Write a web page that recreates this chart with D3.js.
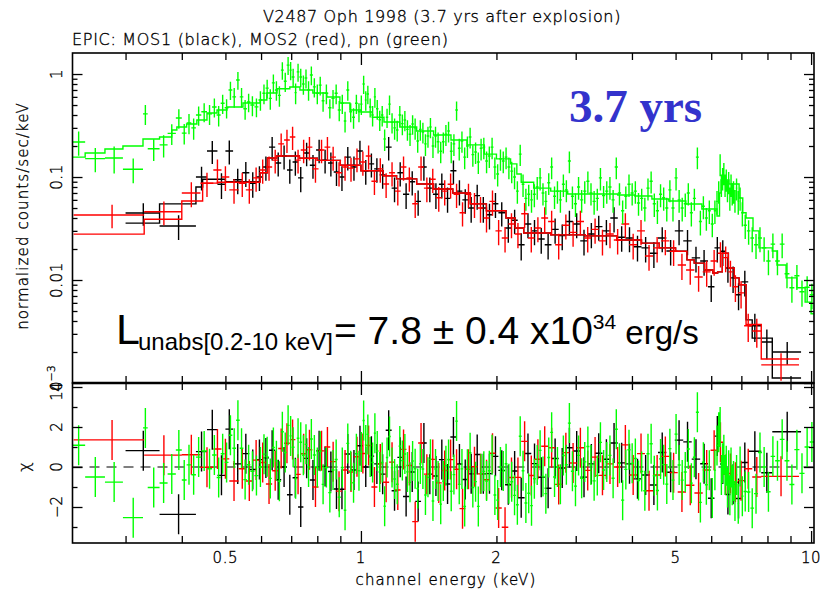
<!DOCTYPE html>
<html>
<head>
<meta charset="utf-8">
<script src="https://cdn.jsdelivr.net/npm/d3@7"></script>
<style>
  body { margin: 0; background: #fff; }
  .ax { font-family: "DejaVu Sans", sans-serif; font-weight: 200; fill: #000; stroke: #000; stroke-width: 0.35; }
</style>
</head>
<body>
<svg id="chart" width="820" height="593"></svg>
<script>
// ---------- tick values ----------
var xMajor = [1, 10]
var xMinor = [0.3, 0.4, 0.5, 0.6, 0.7, 0.8, 0.9, 2, 3, 4, 5, 6, 7, 8, 9]
var xLabels = [0.5, 1, 2, 5, 10]
var yMajor = [0.001, 0.01, 0.1, 1]
var yMinor = [0.002,0.003,0.004,0.005,0.006,0.007,0.008,0.009,
              0.02,0.03,0.04,0.05,0.06,0.07,0.08,0.09,
              0.2,0.3,0.4,0.5,0.6,0.7,0.8,0.9]
var yLabels = [1, 0.1, 0.01]
var chiMajor = [-2, 0, 2, 4]
var chiMinor = [-3, -1, 1, 3]

// ---------- MOS1 (black) ----------
var mos1Edges = [0.300,0.357,0.430,0.455,0.480,0.500,0.520,0.545,0.565,0.585,0.605,0.625,0.645,0.665,0.685,0.705,0.725,0.745,0.770,0.795,
  0.820,0.845,0.870,0.895,0.920,0.950,0.980,1.010,1.040,1.070,1.100,1.135,1.170,1.205,1.240,1.280,1.320,1.360,1.400,1.445,
  1.490,1.535,1.580,1.630,1.680,1.730,1.785,1.840,1.900,1.960,2.020,2.090,2.160,2.230,2.310,2.390,2.470,2.560,2.650,2.750,
  2.850,2.960,3.070,3.190,3.310,3.440,3.580,3.720,3.870,4.030,4.200,4.380,4.570,4.770,4.980,5.200,5.430,5.670,5.900,6.100,
  6.280,6.450,6.620,6.800,7.000,7.250,7.750,8.200,9.500]
var mos1Rate = [0.0447,0.0335,0.10,0.179,0.085,0.179,0.094,0.11,0.087,0.10,
  0.125,0.195,0.137,0.16,0.117,0.14,0.098,0.171,0.13,0.183,
  0.146,0.137,0.112,0.10,0.156,0.125,0.179,0.115,0.134,0.12,
  0.105,0.195,0.078,0.11,0.068,0.09,0.058,0.125,0.078,0.068,
  0.085,0.062,0.115,0.073,0.06,0.05,0.066,0.05,0.043,0.055,
  0.045,0.032,0.038,0.022,0.035,0.03,0.025,0.022,0.031,0.027,
  0.037,0.035,0.024,0.028,0.033,0.03,0.04,0.026,0.0256,0.021,
  0.0205,0.0182,0.0256,0.0191,0.03,0.024,0.0164,0.0153,0.0086,0.0205,
  0.019,0.0131,0.0105,0.0072,0.0096,0.0036,0.0025,0.002]
var mos1Err = [0.011,0.009,0.026,0.045,0.024,0.047,0.026,0.03,0.024,0.027,
  0.033,0.05,0.036,0.042,0.031,0.037,0.027,0.044,0.034,0.047,
  0.038,0.036,0.03,0.027,0.04,0.033,0.046,0.031,0.035,0.032,
  0.028,0.05,0.021,0.029,0.019,0.024,0.016,0.033,0.021,0.019,
  0.023,0.017,0.03,0.02,0.016,0.014,0.018,0.014,0.012,0.015,
  0.012,0.009,0.01,0.0065,0.0095,0.0082,0.007,0.0062,0.0085,0.0075,
  0.01,0.0095,0.0067,0.0077,0.009,0.0082,0.011,0.0072,0.007,0.0059,
  0.0057,0.0051,0.007,0.0053,0.0082,0.0066,0.0046,0.0043,0.0025,0.0057,
  0.0053,0.0037,0.003,0.0021,0.0027,0.0011,0.0008,0.0005]
var mos1ModelEdges = [0.300,0.357,0.430,0.445,0.500,0.597,0.62,0.65,0.73,0.80,0.90,1.0,1.12,1.2,1.33,1.45,1.6,1.75,1.9,2.1,
  2.2,2.3,2.64,3.15,3.7,4.2,4.6,5.0,5.3,5.5,5.8,6.05,6.2,6.35,6.55,6.75,6.92,7.17,7.4,8.2,9.5]
var mos1Model = [0.0357,0.0548,0.080,0.095,0.090,0.11,0.153,0.16,0.152,0.145,0.13,0.115,0.103,0.096,0.0855,0.0765,0.070,0.0548,0.047,0.040,
  0.032,0.0286,0.0274,0.0268,0.0245,0.0228,0.0205,0.019,0.0157,0.0146,0.0125,0.0117,0.0120,0.0182,0.0131,0.0105,0.0090,0.0041,0.00273,0.00112]

// ---------- MOS2 (red) ----------
var mos2Edges = [0.230,0.330,0.400,0.440,0.470,0.490,0.510,0.535,0.555,0.575,0.595,0.615,0.635,0.655,0.675,0.695,0.715,0.735,0.757,0.780,
  0.805,0.830,0.855,0.880,0.908,0.936,0.965,0.995,1.025,1.055,1.088,1.120,1.155,1.190,1.225,1.262,1.300,1.340,1.380,1.422,
  1.466,1.512,1.558,1.606,1.656,1.707,1.760,1.815,1.872,1.930,1.990,2.055,2.125,2.195,2.270,2.350,2.430,2.515,2.605,2.700,
  2.800,2.905,3.015,3.130,3.250,3.375,3.505,3.645,3.790,3.945,4.105,4.275,4.455,4.645,4.845,5.055,5.275,5.505,5.745,5.980,
  6.200,6.380,6.540,6.700,6.880,7.100,7.400,7.750,9.400]
var mos2Rate = [0.0428,0.046,0.07,0.087,0.117,0.10,0.075,0.087,0.075,0.098,
  0.117,0.125,0.146,0.21,0.229,0.245,0.146,0.183,0.195,0.12,
  0.183,0.195,0.156,0.11,0.125,0.122,0.15,0.14,0.16,0.091,
  0.12,0.0855,0.11,0.073,0.125,0.098,0.055,0.125,0.078,0.095,
  0.063,0.073,0.085,0.068,0.045,0.068,0.055,0.05,0.04,0.058,
  0.03,0.0256,0.035,0.028,0.044,0.0256,0.032,0.04,0.037,0.022,
  0.034,0.029,0.037,0.0256,0.031,0.024,0.028,0.0245,0.035,0.022,
  0.03,0.0171,0.0205,0.024,0.019,0.014,0.0125,0.0107,0.012,0.0153,
  0.0182,0.0165,0.012,0.0086,0.0075,0.0036,0.0032,0.0015]
var mos2Err = [0.011,0.012,0.019,0.023,0.031,0.027,0.02,0.023,0.02,0.026,
  0.031,0.033,0.038,0.054,0.058,0.062,0.038,0.047,0.05,0.032,
  0.047,0.05,0.041,0.029,0.033,0.032,0.039,0.037,0.042,0.024,
  0.032,0.023,0.029,0.02,0.033,0.026,0.015,0.033,0.021,0.025,
  0.017,0.02,0.023,0.018,0.012,0.018,0.015,0.014,0.011,0.016,
  0.0083,0.0071,0.0095,0.0077,0.012,0.0071,0.0087,0.011,0.01,0.0062,
  0.0092,0.008,0.01,0.0071,0.0085,0.0067,0.0077,0.0068,0.0095,0.0062,
  0.0082,0.0048,0.0057,0.0066,0.0053,0.004,0.0035,0.003,0.0034,0.0043,
  0.005,0.0046,0.0034,0.0025,0.0022,0.0011,0.001,0.00045]
var mos2ModelEdges = [0.23,0.33,0.40,0.445,0.48,0.597,0.62,0.65,0.73,0.80,0.90,1.0,1.12,1.2,1.33,1.45,1.6,1.75,1.9,2.1,
  2.2,2.3,2.64,3.15,3.7,4.2,4.6,5.0,5.3,5.5,5.8,6.05,6.2,6.35,6.55,6.75,6.92,7.17,7.75,9.4]
var mos2Model = [0.0279,0.0389,0.0584,0.0873,0.089,0.11,0.153,0.16,0.152,0.145,0.13,0.115,0.103,0.096,0.0855,0.0765,0.070,0.0548,0.047,0.040,
  0.032,0.0286,0.0274,0.0268,0.0245,0.0228,0.0205,0.019,0.0157,0.0146,0.0125,0.0117,0.0120,0.0182,0.0131,0.0105,0.0090,0.0037,0.00171]

// ---------- pn (green) ----------
var pnEdges = [0.228,0.244,0.270,0.296,0.328,0.336,0.357,0.372,0.388,0.400,
  0.410,0.420,0.430,0.442,0.455,0.467,0.478,0.488,0.498,0.508,
  0.518,0.528,0.538,0.548,0.558,0.568,0.580,0.592,0.604,0.614,
  0.624,0.634,0.644,0.654,0.664,0.674,0.684,0.694,0.702,0.712,
  0.720,0.730,0.740,0.750,0.760,0.770,0.782,0.794,0.806,0.818,
  0.830,0.846,0.860,0.874,0.888,0.902,0.916,0.928,0.942,0.956,
  0.970,0.984,0.996,1.008,1.020,1.030,1.042,1.055,1.068,1.080,
  1.094,1.108,1.122,1.136,1.150,1.165,1.180,1.196,1.212,1.228,
  1.244,1.260,1.277,1.294,1.311,1.328,1.346,1.364,1.382,1.400,
  1.418,1.436,1.455,1.474,1.494,1.514,1.534,1.555,1.576,1.598,
  1.620,1.642,1.665,1.688,1.712,1.736,1.760,1.785,1.810,1.836,
  1.862,1.888,1.915,1.942,1.970,1.998,2.027,2.056,2.086,2.116,
  2.147,2.178,2.210,2.242,2.275,2.308,2.342,2.376,2.410,2.446,
  2.482,2.519,2.556,2.594,2.633,2.672,2.712,2.753,2.795,2.838,
  2.882,2.927,2.973,3.020,3.068,3.117,3.167,3.218,3.270,3.323,
  3.377,3.432,3.488,3.545,3.603,3.662,3.722,3.783,3.845,3.908,
  3.972,4.037,4.103,4.170,4.238,4.307,4.377,4.448,4.520,4.593,
  4.667,4.742,4.818,4.895,4.973,5.052,5.132,5.213,5.295,5.378,
  5.462,5.547,5.633,5.720,5.808,5.897,5.987,6.078,6.150,6.210,
  6.260,6.300,6.340,6.380,6.420,6.460,6.500,6.540,6.580,6.620,
  6.660,6.700,6.750,6.800,6.860,6.920,6.990,7.080,7.200,7.330,
  7.470,7.620,7.780,7.950,8.130,8.320,8.520,8.730,8.950,9.180,
  9.420,9.670,9.930,10.15]
var pnRate = [0.219,0.151,0.153,0.119,0.41,0.188,0.205,0.265,0.374,0.267,
  0.335,0.30,0.40,0.43,0.41,0.478,0.40,0.52,0.47,0.70,
  0.60,0.875,0.60,0.46,0.535,0.50,0.48,0.56,0.65,0.73,
  0.58,0.82,0.70,0.62,1.09,0.85,1.22,1.09,0.935,0.66,
  1.05,0.935,0.80,0.915,0.70,0.98,0.75,0.65,0.78,0.55,
  0.65,0.47,0.58,0.65,0.447,0.52,0.35,0.70,0.43,0.38,
  0.52,0.43,0.51,0.80,0.56,0.64,0.478,0.40,0.60,0.46,
  0.36,0.40,0.234,0.38,0.51,0.34,0.30,0.286,0.40,0.33,
  0.358,0.29,0.26,0.327,0.30,0.224,0.29,0.274,0.21,0.25,
  0.306,0.20,0.25,0.22,0.178,0.22,0.26,0.28,0.178,0.21,
  0.447,0.19,0.224,0.156,0.20,0.245,0.165,0.175,0.14,0.19,
  0.195,0.143,0.16,0.195,0.125,0.107,0.15,0.143,0.156,0.125,
  0.114,0.10,0.073,0.167,0.085,0.062,0.068,0.06,0.068,0.08,
  0.098,0.07,0.058,0.088,0.125,0.065,0.073,0.06,0.085,0.075,
  0.143,0.065,0.055,0.08,0.06,0.073,0.091,0.07,0.058,0.062,
  0.098,0.066,0.073,0.08,0.06,0.125,0.07,0.047,0.065,0.085,
  0.07,0.073,0.056,0.062,0.05,0.078,0.091,0.055,0.047,0.068,
  0.063,0.05,0.075,0.05,0.098,0.06,0.05,0.055,0.07,0.045,
  0.062,0.156,0.037,0.052,0.04,0.047,0.035,0.047,0.058,0.073,
  0.134,0.085,0.098,0.11,0.085,0.095,0.075,0.09,0.063,0.085,
  0.07,0.073,0.06,0.078,0.058,0.063,0.045,0.034,0.03,0.0256,
  0.022,0.0256,0.0205,0.0153,0.0223,0.0153,0.0223,0.0115,0.0084,0.011,
  0.0077,0.0085,0.0072]
var pnErr = [0.058,0.040,0.045,0.032,0.09,0.045,0.05,0.06,0.08,0.06,
  0.075,0.07,0.085,0.09,0.09,0.10,0.09,0.11,0.10,0.14,
  0.13,0.17,0.13,0.10,0.11,0.11,0.10,0.12,0.14,0.15,
  0.13,0.17,0.15,0.14,0.21,0.18,0.24,0.22,0.19,0.15,
  0.21,0.19,0.17,0.19,0.15,0.20,0.16,0.14,0.16,0.12,
  0.14,0.10,0.12,0.14,0.10,0.11,0.08,0.15,0.09,0.085,
  0.11,0.09,0.11,0.16,0.12,0.13,0.10,0.09,0.13,0.10,
  0.08,0.09,0.055,0.08,0.11,0.075,0.07,0.065,0.09,0.075,
  0.08,0.065,0.06,0.07,0.07,0.052,0.065,0.062,0.05,0.058,
  0.068,0.047,0.058,0.051,0.042,0.051,0.06,0.064,0.042,0.05,
  0.095,0.045,0.052,0.037,0.047,0.056,0.039,0.041,0.033,0.045,
  0.046,0.034,0.038,0.046,0.03,0.026,0.035,0.034,0.037,0.03,
  0.027,0.024,0.018,0.039,0.021,0.015,0.016,0.015,0.017,0.02,
  0.024,0.017,0.015,0.021,0.03,0.016,0.018,0.015,0.021,0.018,
  0.034,0.016,0.014,0.02,0.015,0.018,0.022,0.017,0.015,0.015,
  0.024,0.016,0.018,0.02,0.015,0.03,0.017,0.012,0.016,0.021,
  0.017,0.018,0.014,0.015,0.013,0.019,0.022,0.014,0.012,0.017,
  0.016,0.013,0.018,0.013,0.024,0.015,0.013,0.014,0.017,0.012,
  0.015,0.037,0.01,0.013,0.01,0.012,0.009,0.012,0.015,0.018,
  0.032,0.021,0.024,0.027,0.021,0.023,0.018,0.022,0.016,0.021,
  0.017,0.018,0.015,0.019,0.015,0.016,0.012,0.009,0.008,0.007,
  0.006,0.007,0.0055,0.0042,0.006,0.0042,0.006,0.0032,0.0024,0.003,
  0.0022,0.0024,0.002]
var pnModelEdges = [0.228,0.244,0.270,0.296,0.328,0.357,0.380,0.390,0.410,0.432,0.455,0.479,0.504,0.547,0.597,0.618,0.651,0.695,0.732,0.782,
  0.840,0.898,0.945,1.0,1.06,1.125,1.22,1.33,1.45,1.585,1.72,1.88,2.0,2.15,2.22,2.27,2.42,2.64,2.88,3.15,
  3.72,4.06,4.43,4.83,5.27,5.72,6.18,6.26,6.31,6.57,6.92,7.05,7.17,7.43,7.66,8.2,8.4,8.8,9.3,9.7,10.0,10.15]
var pnModel = [0.156,0.171,0.187,0.200,0.234,0.245,0.286,0.306,0.327,0.358,0.418,0.447,0.478,0.523,0.560,0.654,0.720,0.748,0.700,0.654,
  0.598,0.523,0.447,0.428,0.380,0.342,0.306,0.280,0.256,0.229,0.205,0.167,0.150,0.134,0.107,0.089,0.078,0.073,0.0684,0.0684,
  0.0669,0.0654,0.0611,0.0585,0.0547,0.0489,0.0418,0.070,0.0935,0.0855,0.0625,0.045,0.040,0.030,0.0205,0.0191,0.014,0.0105,0.0084,0.0061,0.0047]

// ---------- layout ----------
var left = 72.5, right = 814, top1 = 53, bot1 = 383, bot2 = 543
var svg = d3.select('#chart')

var x = d3.scaleLog().domain([0.2287, 10.15]).range([left, right])
var y = d3.scaleLog().domain([0.001, 1.6]).range([bot1, top1])
var yc = d3.scaleLinear().domain([-3.8, 4.2]).range([bot2, bot1])

var defs = svg.append('defs')
defs.append('clipPath').attr('id', 'clipTop').append('rect')
  .attr('x', left).attr('y', top1).attr('width', right - left).attr('height', bot1 - top1)
defs.append('clipPath').attr('id', 'clipBot').append('rect')
  .attr('x', left).attr('y', bot1).attr('width', right - left).attr('height', bot2 - bot1)

function makeBins(edges, rate, err, name){
  if (edges.length !== rate.length + 1 || rate.length !== err.length)
    throw new Error(name + ' length mismatch ' + edges.length + ' ' + rate.length + ' ' + err.length)
  return rate.map(function(r, i){
    return {e0: edges[i], e1: edges[i+1], ec: (edges[i] + edges[i+1]) / 2, r: r, err: err[i]}
  })
}
function modelAt(edges, vals, e){
  for (var i = 0; i < vals.length; i++) if (e >= edges[i] && e < edges[i+1]) return vals[i]
  return vals[vals.length - 1]
}

var series = [
  {color: '#000000', bins: makeBins(mos1Edges, mos1Rate, mos1Err, 'mos1'), me: mos1ModelEdges, mv: mos1Model},
  {color: '#ff0000', bins: makeBins(mos2Edges, mos2Rate, mos2Err, 'mos2'), me: mos2ModelEdges, mv: mos2Model},
  {color: '#00ff00', bins: makeBins(pnEdges, pnRate, pnErr, 'pn'), me: pnModelEdges, mv: pnModel}
]
series.forEach(function(s){
  if (s.me.length !== s.mv.length + 1) throw new Error('model length mismatch')
  s.bins.forEach(function(b){ b.chi = (b.r - modelAt(s.me, s.mv, b.ec)) / b.err })
})

var gTop = svg.append('g').attr('clip-path', 'url(#clipTop)')
var gBot = svg.append('g').attr('clip-path', 'url(#clipBot)')

// dashed zero line
gBot.append('line')
  .attr('x1', left).attr('x2', right).attr('y1', yc(0)).attr('y2', yc(0))
  .attr('stroke', '#555').attr('stroke-width', 1.6).attr('stroke-dasharray', '10,7')

var step = d3.line().x(function(d){ return x(d[0]) }).y(function(d){ return y(d[1]) }).curve(d3.curveStepAfter)

series.forEach(function(s){
  // data crosses
  gTop.append('path')
    .attr('fill', 'none').attr('stroke', s.color).attr('stroke-width', 1.4)
    .attr('d', s.bins.map(function(b){
      var lo = Math.max(b.r - b.err, 1e-5)
      return 'M' + x(b.e0) + ',' + y(b.r) + 'H' + x(b.e1) +
             'M' + x(b.ec) + ',' + y(lo) + 'V' + y(b.r + b.err)
    }).join(''))
  // folded model
  var pts = s.me.map(function(e, i){ return [e, s.mv[Math.min(i, s.mv.length - 1)]] })
  gTop.append('path')
    .attr('fill', 'none').attr('stroke', s.color).attr('stroke-width', 1.4)
    .attr('d', step(pts))
  // residuals
  gBot.append('path')
    .attr('fill', 'none').attr('stroke', s.color).attr('stroke-width', 1.4)
    .attr('d', s.bins.map(function(b){
      return 'M' + x(b.e0) + ',' + yc(b.chi) + 'H' + x(b.e1) +
             'M' + x(b.ec) + ',' + yc(b.chi - 1) + 'V' + yc(b.chi + 1)
    }).join(''))
})

// ---------- ticks ----------
function tickAxis(axis, tx, ty){
  var g = svg.append('g').attr('transform', 'translate(' + tx + ',' + ty + ')').call(axis)
  g.select('.domain').remove()
  g.selectAll('line').attr('stroke', '#000').attr('stroke-width', 1.3)
  g.selectAll('text').remove()
}
// x ticks on both panels, top and bottom edges
;[[top1, bot1], [bot1, bot2]].forEach(function(p){
  tickAxis(d3.axisBottom(x).tickValues(xMinor).tickSize(7), 0, p[0])
  tickAxis(d3.axisBottom(x).tickValues(xMajor).tickSize(12), 0, p[0])
  tickAxis(d3.axisTop(x).tickValues(xMinor).tickSize(7), 0, p[1])
  tickAxis(d3.axisTop(x).tickValues(xMajor).tickSize(12), 0, p[1])
})
tickAxis(d3.axisRight(y).tickValues(yMinor).tickSize(5), left, 0)
tickAxis(d3.axisRight(y).tickValues(yMajor).tickSize(10), left, 0)
tickAxis(d3.axisLeft(y).tickValues(yMinor).tickSize(5), right, 0)
tickAxis(d3.axisLeft(y).tickValues(yMajor).tickSize(10), right, 0)
tickAxis(d3.axisRight(yc).tickValues(chiMinor).tickSize(5), left, 0)
tickAxis(d3.axisRight(yc).tickValues(chiMajor).tickSize(10), left, 0)
tickAxis(d3.axisLeft(yc).tickValues(chiMinor).tickSize(5), right, 0)
tickAxis(d3.axisLeft(yc).tickValues(chiMajor).tickSize(10), right, 0)

// frames
svg.append('rect').attr('x', left).attr('y', top1).attr('width', right - left).attr('height', bot1 - top1)
  .attr('fill', 'none').attr('stroke', '#000').attr('stroke-width', 1.6)
svg.append('rect').attr('x', left).attr('y', bot1).attr('width', right - left).attr('height', bot2 - bot1)
  .attr('fill', 'none').attr('stroke', '#000').attr('stroke-width', 1.6)
svg.append('line').attr('x1', left).attr('x2', right).attr('y1', bot1).attr('y2', bot1)
  .attr('stroke', '#000').attr('stroke-width', 2.6)

// ---------- labels ----------
svg.selectAll('.xl').data(xLabels).enter().append('text')
  .attr('class', 'ax').attr('x', function(d){ return x(d) }).attr('y', 563)
  .attr('text-anchor', 'middle').attr('font-size', 15).attr('letter-spacing', 0.6)
  .text(function(d){ return d })

svg.selectAll('.yl').data(yLabels).enter().append('text')
  .attr('class', 'ax').attr('font-size', 15).attr('text-anchor', 'middle').attr('letter-spacing', 0.6)
  .attr('transform', function(d){ return 'translate(62,' + y(d) + ') rotate(-90)' })
  .text(function(d){ return d })
var t3 = svg.append('text').attr('class', 'ax').attr('font-size', 15).attr('text-anchor', 'middle')
  .attr('transform', 'translate(62,' + y(0.001) + ') rotate(-90)')
t3.append('tspan').text('10')
t3.append('tspan').attr('font-size', 11).attr('dy', -7).text('−3')

svg.selectAll('.cl').data(chiMajor).enter().append('text')
  .attr('class', 'ax').attr('font-size', 15).attr('text-anchor', 'middle')
  .attr('transform', function(d){ return 'translate(62,' + yc(d) + ') rotate(-90)' })
  .text(function(d){ return d < 0 ? '−' + (-d) : d })

svg.append('text').attr('class', 'ax').attr('font-size', 15).attr('text-anchor', 'middle')
  .attr('letter-spacing', 1.1)
  .attr('transform', 'translate(28,216) rotate(-90)').text('normalized counts/sec/keV')
svg.append('text').attr('class', 'ax').attr('font-size', 16).attr('text-anchor', 'middle')
  .attr('transform', 'translate(30,' + yc(0) + ') rotate(-90)').text('χ')
svg.append('text').attr('class', 'ax').attr('font-size', 15).attr('text-anchor', 'middle')
  .attr('letter-spacing', 1.1).attr('x', 446).attr('y', 585).text('channel energy (keV)')

svg.append('text').attr('class', 'ax').attr('font-size', 16).attr('text-anchor', 'middle')
  .attr('letter-spacing', 0.65).attr('x', 442).attr('y', 22).text('V2487 Oph 1998 (3.7 yrs after explosion)')
svg.append('text').attr('class', 'ax').attr('font-size', 16).attr('letter-spacing', 0.7)
  .attr('x', 72).attr('y', 45).text('EPIC: MOS1 (black), MOS2 (red), pn (green)')

// annotations
svg.append('text').attr('x', 569).attr('y', 122)
  .attr('font-family', '"Liberation Serif", "Times New Roman", serif').attr('font-weight', 'bold')
  .attr('font-size', 47).attr('fill', '#3333cc').text('3.7 yrs')

var lum = svg.append('g').attr('font-family', '"Liberation Sans", Arial, sans-serif').attr('fill', '#000')
lum.append('text').attr('x', 116).attr('y', 344).attr('font-size', 43).text('L')
lum.append('text').attr('x', 138).attr('y', 350).attr('font-size', 24).text('unabs[0.2-10 keV]')
var lumMain = lum.append('text').attr('x', 334).attr('y', 344).attr('font-size', 39)
lumMain.append('tspan').text('= 7.8 ± 0.4 x10')
lumMain.append('tspan').attr('font-size', 21).attr('dy', -15).text('34')
lumMain.append('tspan').attr('font-size', 33).attr('dy', 15).text(' erg/s')
</script>
</body>
</html>
